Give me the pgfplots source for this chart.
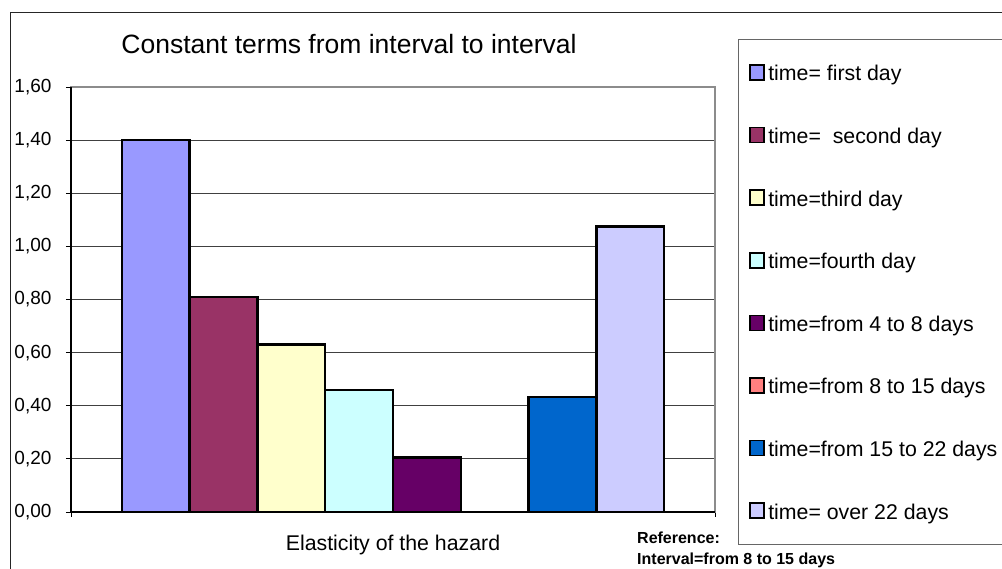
\documentclass[border=0pt]{standalone}
\usepackage{fontspec}
\setmainfont{Liberation Sans}
\usepackage{pgfplots}
\pgfplotsset{compat=1.18}
\definecolor{c1}{HTML}{9999FF}
\definecolor{c2}{HTML}{993366}
\definecolor{c3}{HTML}{FFFFCC}
\definecolor{c4}{HTML}{CCFFFF}
\definecolor{c5}{HTML}{660066}
\definecolor{c6}{HTML}{FF8080}
\definecolor{c7}{HTML}{0066CC}
\definecolor{c8}{HTML}{CCCCFF}
\begin{document}
\begin{tikzpicture}
\useasboundingbox (0,0) rectangle (1002pt,568pt);
\draw[line width=1pt, black!85] (10pt,-5pt) -- (10pt,555pt) -- (1010pt,555pt);
\draw[line width=1pt, black!60] (738pt,23pt) rectangle (1010pt,528pt);
\node[font=\fontsize{26.5}{26.5}\selectfont, anchor=base] at (349pt,514pt) {Constant terms from interval to interval};
\node[font=\fontsize{21.3}{21.3}\selectfont, anchor=base] at (393pt,17pt) {Elasticity of the hazard};
\node[font=\bfseries\fontsize{16}{16}\selectfont, anchor=base west, inner sep=0pt] at (637pt,24.7pt) {Reference:};
\node[font=\bfseries\fontsize{16}{16}\selectfont, anchor=base west, inner sep=0pt] at (637pt,3pt) {Interval=from 8 to 15 days};
\begin{axis}[
  at={(71pt,56pt)}, anchor=south west, scale only axis,
  width=644pt, height=425pt,
  ybar=0pt, bar width=67.8pt,
  xmin=-1, xmax=1, ymin=0, ymax=1.6,
  xtick={-1,1}, xticklabels={},
  ytick={0,0.2,0.4,0.6,0.8,1.0,1.2,1.4,1.6},
  xtick pos=bottom, ytick pos=left,
  tick align=outside, major tick length=5pt,
  tick style={black, line width=0.8pt},
  ymajorgrids, grid style={black!75, line width=0.8pt},
  axis line style={black!45, line width=1.8pt},
  clip=false,
  yticklabel style={font=\fontsize{19}{19}\selectfont, xshift=-11pt},
  /pgf/number format/fixed, /pgf/number format/fixed zerofill,
  /pgf/number format/precision=2, /pgf/number format/use comma,
  /pgf/number format/assume math mode=true,
  every axis plot/.append style={draw=black, line width=2.4pt},
  legend image code/.code={\draw[#1, line width=1.6pt] (0.8pt,0.8pt) rectangle (14.8pt,15.8pt);},
  legend style={draw=none, fill=none, at={(axis description cs:1.0528,1.0541)}, anchor=north west,
    inner sep=0pt, row sep=41.5pt, column sep=3.5pt,
    nodes={inner sep=0pt, text height=15pt, text depth=4.5pt, anchor=base west},
    font=\fontsize{21.3}{21.3}\selectfont},
  legend cell align=left,
]
\addplot[fill=c1] coordinates {(0,1.40)};
\addplot[fill=c2] coordinates {(0,0.81)};
\addplot[fill=c3] coordinates {(0,0.63)};
\addplot[fill=c4] coordinates {(0,0.46)};
\addplot[fill=c5] coordinates {(0,0.205)};
\addplot[fill=c6] coordinates {(0,0)};
\addplot[fill=c7] coordinates {(0,0.433)};
\addplot[fill=c8] coordinates {(0,1.075)};
\legend{time= first day, time=\ \ second day, time=third day, time=fourth day, time=from 4 to 8 days, time=from 8 to 15 days, time=from 15 to 22 days, time= over 22 days}
\draw[black, line width=1.5pt] (rel axis cs:0,1) -- (rel axis cs:0,0) -- (rel axis cs:1,0);
\end{axis}
\end{tikzpicture}
\end{document}
